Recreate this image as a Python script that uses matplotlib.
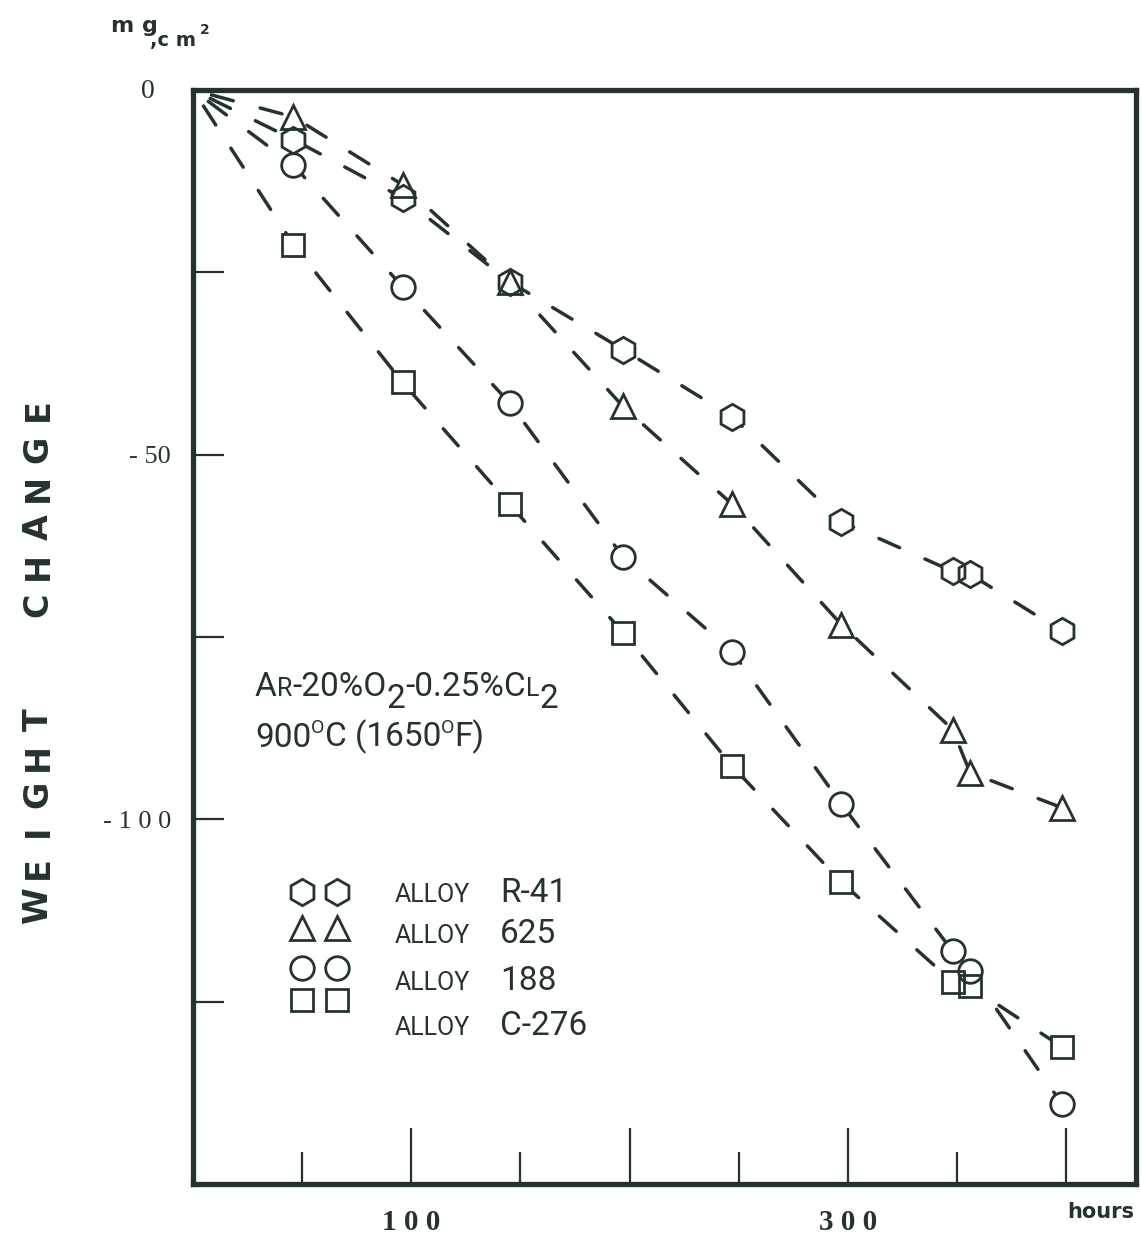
import matplotlib
matplotlib.use("Agg")
import matplotlib.pyplot as plt
from matplotlib.ticker import FixedLocator, NullFormatter, FixedFormatter

# exposure time (hours) and weight change (mg/cm2)
hours = [46, 96, 145, 197, 247, 297, 348, 356, 398]
r41 = [-6.8, -14.8, -26.3, -35.6, -44.8, -59.2, -66.0, -66.4, -74.2]
a625 = [-3.7, -13.0, -26.3, -43.4, -56.8, -73.3, -87.7, -93.6, -98.4]
a188 = [-10.3, -27.0, -42.9, -64.0, -77.0, -97.9, -118.1, -120.8, -139.0]
c276 = [-21.2, -40.1, -56.8, -74.4, -92.7, -108.6, -122.3, -122.9, -131.2]

alloys = ["R-41", "625", "188", "C-276"]
markers = ["h", "^", "o", "s"]
msizes = [19, 17, 17, 16]

x_major = [100, 200, 300, 400]
x_minor = [50, 150, 250, 350]
x_labels = ["1 0 0", "", "3 0 0", ""]
y_major = [-50, -100]
y_minor = [-25, -75, -125]
y_labels = ["- 50", "- 1 0 0"]

ink = "#263232"
thin = ["Roboto", "DejaVu Sans"]
serif = ["Liberation Serif", "DejaVu Serif"]

fig = plt.figure(figsize=(11.41, 12.46), dpi=100)
ax = fig.add_axes([0.1692, 0.0498, 0.8264, 0.878])
ax.set_xlim(0, 432)
ax.set_ylim(-150, 0)

series = [r41, a625, a188, c276]
for vals in series:
    ax.plot([0] + hours, [0] + vals, color=ink, lw=2.5,
            linestyle=(9, (6.5, 8)), dash_capstyle="round", zorder=2)
# white masks first, then outlines, so overlapping symbols stay visible
for vals, m, ms in zip(series, markers, msizes):
    ax.plot(hours, vals, linestyle="none", marker=m, ms=ms,
            mfc="white", mec="none", zorder=3)
for vals, m, ms in zip(series, markers, msizes):
    ax.plot(hours, vals, linestyle="none", marker=m, ms=ms,
            mfc="none", mec=ink, mew=2.0, zorder=4)

for s in ax.spines.values():
    s.set_linewidth(3.8)
    s.set_color(ink)

ax.xaxis.set_major_locator(FixedLocator(x_major))
ax.xaxis.set_minor_locator(FixedLocator(x_minor))
ax.xaxis.set_major_formatter(FixedFormatter(x_labels))
ax.xaxis.set_minor_formatter(NullFormatter())
ax.tick_params(axis="x", which="major", direction="in", length=40, width=1.6,
               color=ink, pad=18, labelsize=21, labelcolor=ink)
ax.tick_params(axis="x", which="minor", direction="in", length=23, width=1.6,
               color=ink)
for t in ax.get_xticklabels():
    t.set_fontfamily(serif)
    t.set_fontweight("bold")

ax.yaxis.set_major_locator(FixedLocator(y_major))
ax.yaxis.set_minor_locator(FixedLocator(y_minor))
ax.yaxis.set_major_formatter(FixedFormatter(y_labels))
ax.yaxis.set_minor_formatter(NullFormatter())
ax.tick_params(axis="y", which="both", direction="in", length=22, width=1.6,
               color=ink, pad=16, labelsize=19, labelcolor=ink)
for t in ax.get_yticklabels():
    t.set_fontfamily(serif)

fig.text(148 / 1141, 1 - 92 / 1246, "0", ha="center", va="center",
         fontsize=20, family=serif, color=ink)

# spaced-out vertical axis title, one letter at a time
title_letters = "WEIGHTCHANGE"
title_y = [905, 868, 831, 794, 757, 720, 605, 566, 527, 488, 449, 410]
for ch, yp in zip(title_letters, title_y):
    fig.text(38 / 1141, 1 - yp / 1246, ch, rotation=90, ha="center",
             va="center", fontsize=24, fontweight="bold",
             family="DejaVu Sans", color=ink)

fig.text(111 / 1141, 1 - 32 / 1246, "m g", ha="left", va="baseline",
         fontsize=16, fontweight="bold", family="DejaVu Sans", color=ink)
fig.text(150 / 1141, 1 - 46 / 1246, ",c m", ha="left", va="baseline",
         fontsize=14, fontweight="bold", family="DejaVu Sans", color=ink)
fig.text(200 / 1141, 1 - 34 / 1246, "2", ha="left", va="baseline",
         fontsize=10, fontweight="bold", family="DejaVu Sans", color=ink)
fig.text(1134 / 1141, 1 - 1212 / 1246, "hours", ha="right", va="center",
         fontsize=15, fontweight="bold", family="DejaVu Sans", color=ink)


def text_runs(x, y, parts):
    # chain pieces of text so small caps, sub- and superscripts line up;
    # each part is (text, fontsize, baseline offset in points)
    desc = 0.21
    s, fs, b = parts[0]
    prev = ax.text(x, y, s, transform=ax.transAxes, fontsize=fs,
                   family=thin, color=ink, va="bottom")
    prev_bottom = b - desc * fs
    for s, fs, b in parts[1:]:
        bottom = b - desc * fs
        prev = ax.annotate(s, xy=(1, 0), xycoords=prev,
                           xytext=(0, bottom - prev_bottom),
                           textcoords="offset points", fontsize=fs,
                           family=thin, color=ink, va="bottom")
        prev_bottom = bottom


text_runs(0.0657, 0.440, [("A", 24, 0), ("R", 18, 0), ("-20%O", 24, 0),
                          ("2", 24, -9), ("-0.25%C", 24, 0), ("L", 18, 0),
                          ("2", 24, -9)])
text_runs(0.0657, 0.393, [("900", 24, 0), ("O", 14, 10), ("C (1650", 24, 0),
                          ("O", 14, 10), ("F)", 24, 0)])

# legend block drawn by hand, as in the original
mk_rows = [0.267, 0.234, 0.197, 0.168]
txt_rows = [0.258, 0.220, 0.177, 0.136]
for m, ms, yr in zip(markers, msizes, mk_rows):
    for xc in (0.1156, 0.1527):
        ax.plot([xc], [yr], transform=ax.transAxes, linestyle="none",
                marker=m, ms=ms, mfc="none", mec=ink, mew=2.0, clip_on=False)
for name, yr in zip(alloys, txt_rows):
    ax.text(0.2142, yr, "ALLOY", transform=ax.transAxes, fontsize=18,
            family=thin, color=ink)
    ax.text(0.3256, yr, name, transform=ax.transAxes, fontsize=24,
            family=thin, color=ink)

fig.savefig("out.png", dpi=100, facecolor="white")
